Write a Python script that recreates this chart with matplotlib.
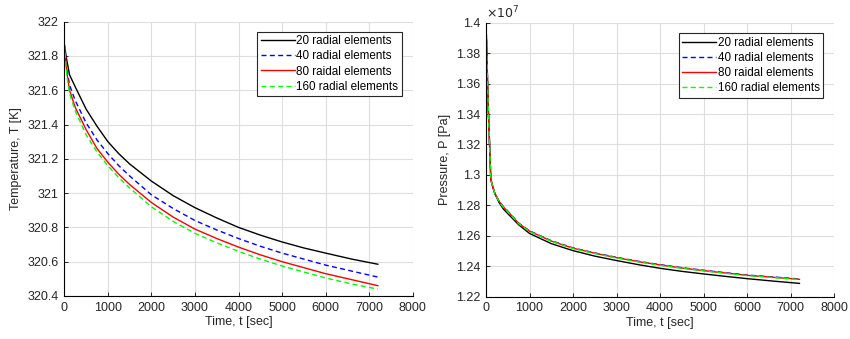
import numpy as np
import matplotlib
matplotlib.use('Agg')
import matplotlib.pyplot as plt
from matplotlib.ticker import FuncFormatter

plt.rcParams['font.family'] = ['Liberation Sans', 'DejaVu Sans']

# time samples (sec)
t = [0, 60, 120, 250, 500, 750, 1000, 1250, 1500, 2000, 2500, 3000,
     3500, 4000, 4500, 5000, 5500, 6000, 6600, 7200]

# temperature (K) for each mesh
T20 = [321.865, 321.77, 321.69, 321.62, 321.49, 321.39, 321.30, 321.23, 321.17, 321.07,
       320.985, 320.915, 320.855, 320.80, 320.755, 320.715, 320.68, 320.65, 320.615, 320.585]
T40 = [321.865, 321.72, 321.63, 321.54, 321.41, 321.31, 321.23, 321.16, 321.10, 320.99,
       320.91, 320.84, 320.785, 320.735, 320.69, 320.65, 320.615, 320.58, 320.545, 320.51]
T80 = [321.865, 321.70, 321.60, 321.50, 321.37, 321.26, 321.18, 321.11, 321.05, 320.945,
       320.86, 320.79, 320.735, 320.685, 320.64, 320.60, 320.565, 320.53, 320.495, 320.46]
T160 = [321.865, 321.68, 321.58, 321.48, 321.34, 321.24, 321.16, 321.09, 321.03, 320.92,
        320.835, 320.765, 320.71, 320.66, 320.615, 320.575, 320.54, 320.505, 320.47, 320.44]

# pressure (x1e7 Pa)
tp = [0, 50, 110, 160, 200, 300, 400, 500, 750, 1000, 1500, 2000, 2500, 3000, 3500,
      4000, 4500, 5000, 5500, 6000, 6600, 7200]
P20 = [1.400, 1.345, 1.297, 1.2915, 1.2878, 1.2818, 1.2775, 1.2745, 1.2672, 1.2615, 1.2548,
       1.2502, 1.2466, 1.2437, 1.2410, 1.2386, 1.2366, 1.2349, 1.2333, 1.2318, 1.2302, 1.2287]
P40 = [1.400, 1.345, 1.297, 1.2918, 1.2882, 1.2828, 1.2790, 1.2762, 1.2683, 1.2632, 1.2567,
       1.2520, 1.2487, 1.2458, 1.2432, 1.2410, 1.2390, 1.2373, 1.2357, 1.2342, 1.2329, 1.2316]
P80 = [1.400, 1.345, 1.297, 1.2917, 1.2881, 1.2826, 1.2788, 1.2760, 1.2681, 1.2630, 1.2565,
       1.2518, 1.2485, 1.2456, 1.2430, 1.2408, 1.2388, 1.2371, 1.2355, 1.2340, 1.2327, 1.2314]
P160 = [1.400, 1.345, 1.297, 1.2916, 1.2880, 1.2824, 1.2786, 1.2758, 1.2679, 1.2628, 1.2563,
        1.2516, 1.2483, 1.2454, 1.2428, 1.2406, 1.2386, 1.2369, 1.2353, 1.2338, 1.2325, 1.2312]

labels = ['20 radial elements', '40 radial elements', '80 raidal elements', '160 radial elements']
colors = ['k', 'b', 'r', '#00ff00']
dashed = [False, True, False, True]

fig = plt.figure(figsize=(8.5, 3.39), dpi=100)
ax1 = fig.add_axes([0.0757, 0.127, 0.4098, 0.809])
ax2 = fig.add_axes([0.5718, 0.125, 0.4097, 0.808])

def style(ax):
    ax.grid(True, color='#dedede', linewidth=0.8)
    ax.set_axisbelow(True)
    ax.spines['top'].set_visible(False)
    ax.spines['right'].set_visible(False)
    ax.tick_params(direction='in', length=3, labelsize=9, colors='#262626', width=0.7, pad=4)
    ax.set_xlim(0, 8000)
    ax.set_xticks(np.arange(0, 8001, 1000))
    ax.set_xlabel('Time, t [sec]', fontsize=9, color='#262626', labelpad=2)

for ys, lab, c, d in zip([T20, T40, T80, T160], labels, colors, dashed):
    line, = ax1.plot(t, ys, color=c, lw=1.0, label=lab)
    if d:
        line.set_dashes((3.6, 2.4))
for ys, lab, c, d in zip([P20, P40, P80, P160], labels, colors, dashed):
    line, = ax2.plot(tp, ys, color=c, lw=1.0, label=lab)
    if d:
        line.set_dashes((3.6, 2.4))

style(ax1)
ax1.set_ylim(320.4, 322)
ax1.set_yticks(np.arange(320.4, 322.01, 0.2))
ax1.yaxis.set_major_formatter(FuncFormatter(lambda v, p: '%g' % round(v, 2)))
ax1.set_ylabel('Temperature, T [K]', fontsize=9, color='#262626')

style(ax2)
ax2.set_ylim(1.22, 1.4)
ax2.set_yticks(np.arange(1.22, 1.401, 0.02))
ax2.yaxis.set_major_formatter(FuncFormatter(lambda v, p: '%g' % round(v, 3)))
ax2.set_ylabel('Pressure, P [Pa]', fontsize=9, color='#262626')
ax2.text(0.0, 1.005, r'$\times10^{7}$', transform=ax2.transAxes, fontsize=9,
         color='#262626', ha='left', va='bottom')

for ax, anchor in [(ax1, (0.969, 0.9635)), (ax2, (0.969, 0.962))]:
    leg = ax.legend(loc='upper right', bbox_to_anchor=anchor, fontsize=8.4,
                    fancybox=False, framealpha=1, edgecolor='#262626',
                    handlelength=2.9, handletextpad=0.15, borderpad=0.3,
                    labelspacing=0.27, borderaxespad=0)
    leg.get_frame().set_linewidth(0.8)

fig.savefig('out.png', dpi=100)
